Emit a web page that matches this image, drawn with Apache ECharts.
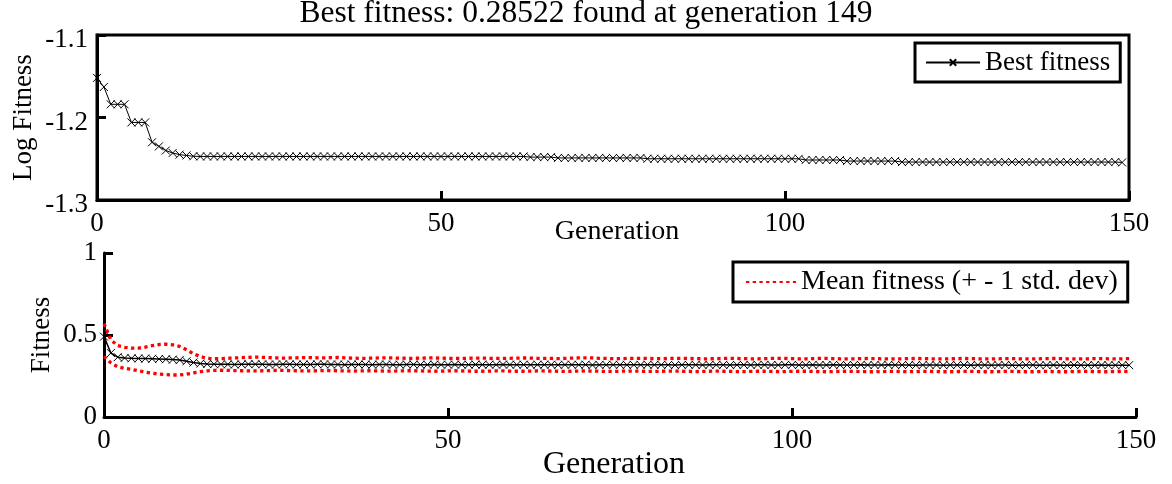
<!DOCTYPE html>
<html>
<head>
<meta charset="utf-8">
<script src="https://cdn.jsdelivr.net/npm/echarts@6/dist/echarts.min.js"></script>
<style>
  html, body { margin: 0; padding: 0; background: #fff; }
  #chart { width: 1172px; height: 484px; }
</style>
</head>
<body>
<div id="chart"></div>
<script>
// Generation index for every recorded generation (0..149)
const generations = Array.from({ length: 150 }, (_, i) => i);

// Log of the best fitness in each generation
const bestLogFitness = [
  -1.152, -1.163, -1.184, -1.184, -1.184, -1.206, -1.206, -1.206, -1.230, -1.235,
  -1.240, -1.243, -1.245, -1.246, -1.247, -1.2472, -1.2472, -1.2472, -1.2472, -1.2472,
  -1.2472, -1.2472, -1.2472, -1.2472, -1.2472, -1.2472, -1.2472, -1.2472, -1.2472, -1.2472,
  -1.2472, -1.2472, -1.2472, -1.2472, -1.2472, -1.2472, -1.2472, -1.2472, -1.2472, -1.2472,
  -1.2472, -1.2472, -1.2472, -1.2472, -1.2472, -1.2472, -1.2472, -1.2472, -1.2472, -1.2472,
  -1.2472, -1.2472, -1.2472, -1.2472, -1.2472, -1.2472, -1.2472, -1.2472, -1.2472, -1.2472,
  -1.2472, -1.2472, -1.2472, -1.2480, -1.2480, -1.2480, -1.2480, -1.2490, -1.2490, -1.2490,
  -1.2490, -1.2490, -1.2490, -1.2490, -1.2490, -1.2490, -1.2490, -1.2490, -1.2490, -1.2490,
  -1.2500, -1.2500, -1.2500, -1.2500, -1.2500, -1.2500, -1.2500, -1.2500, -1.2500, -1.2500,
  -1.2500, -1.2500, -1.2500, -1.2500, -1.2500, -1.2500, -1.2500, -1.2500, -1.2500, -1.2500,
  -1.2500, -1.2500, -1.2500, -1.2515, -1.2515, -1.2515, -1.2515, -1.2515, -1.2515, -1.2528,
  -1.2528, -1.2528, -1.2528, -1.2528, -1.2528, -1.2528, -1.2528, -1.2540, -1.2540, -1.2540,
  -1.2540, -1.2540, -1.2540, -1.2540, -1.2540, -1.2540, -1.2540, -1.2540, -1.2540, -1.2540,
  -1.2540, -1.2540, -1.2540, -1.2540, -1.2540, -1.2540, -1.2540, -1.2540, -1.2540, -1.2540,
  -1.2540, -1.2540, -1.2540, -1.2540, -1.2540, -1.2540, -1.2540, -1.2540, -1.2540, -1.2545
];

// Mean fitness of the population
const meanFitness = [
  0.490, 0.390, 0.365, 0.360, 0.358, 0.357, 0.356, 0.355, 0.354, 0.352,
  0.350, 0.347, 0.340, 0.332, 0.326, 0.323, 0.322, 0.321, 0.321, 0.320,
  0.321, 0.322, 0.322, 0.321, 0.320, 0.320, 0.321, 0.321, 0.320, 0.320,
  0.320, 0.321, 0.321, 0.320, 0.320, 0.319, 0.320, 0.320, 0.320, 0.319,
  0.320, 0.320, 0.319, 0.319, 0.320, 0.320, 0.319, 0.319, 0.320, 0.319,
  0.319, 0.320, 0.319, 0.319, 0.320, 0.319, 0.319, 0.319, 0.320, 0.319,
  0.319, 0.319, 0.318, 0.319, 0.319, 0.319, 0.318, 0.319, 0.319, 0.318,
  0.319, 0.317, 0.318, 0.318, 0.319, 0.318, 0.318, 0.318, 0.318, 0.319,
  0.318, 0.318, 0.318, 0.317, 0.318, 0.318, 0.318, 0.317, 0.318, 0.318,
  0.318, 0.317, 0.318, 0.318, 0.317, 0.318, 0.318, 0.317, 0.317, 0.318,
  0.318, 0.317, 0.317, 0.318, 0.317, 0.317, 0.318, 0.317, 0.317, 0.317,
  0.318, 0.317, 0.317, 0.317, 0.318, 0.317, 0.317, 0.317, 0.316, 0.317,
  0.317, 0.317, 0.316, 0.317, 0.317, 0.317, 0.316, 0.317, 0.317, 0.316,
  0.317, 0.317, 0.316, 0.316, 0.317, 0.317, 0.316, 0.316, 0.317, 0.316,
  0.316, 0.317, 0.316, 0.316, 0.316, 0.317, 0.316, 0.316, 0.316, 0.316
];

// Mean + 1 standard deviation
const upperBand = [
  0.570, 0.470, 0.435, 0.425, 0.420, 0.420, 0.426, 0.435, 0.442, 0.444,
  0.440, 0.430, 0.410, 0.386, 0.368, 0.358, 0.355, 0.356, 0.358, 0.360,
  0.362, 0.364, 0.365, 0.364, 0.362, 0.360, 0.359, 0.360, 0.361, 0.362,
  0.362, 0.361, 0.360, 0.362, 0.363, 0.361, 0.359, 0.358, 0.358, 0.359,
  0.360, 0.361, 0.360, 0.359, 0.358, 0.358, 0.359, 0.360, 0.360, 0.359,
  0.358, 0.357, 0.357, 0.358, 0.359, 0.359, 0.358, 0.357, 0.357, 0.358,
  0.359, 0.360, 0.359, 0.358, 0.357, 0.357, 0.356, 0.357, 0.359, 0.360,
  0.361, 0.360, 0.358, 0.357, 0.356, 0.356, 0.357, 0.358, 0.358, 0.357,
  0.356, 0.356, 0.357, 0.358, 0.358, 0.357, 0.356, 0.355, 0.355, 0.356,
  0.357, 0.358, 0.357, 0.356, 0.355, 0.355, 0.356, 0.357, 0.358, 0.357,
  0.356, 0.355, 0.355, 0.356, 0.357, 0.357, 0.356, 0.355, 0.354, 0.355,
  0.356, 0.357, 0.356, 0.355, 0.354, 0.354, 0.355, 0.356, 0.357, 0.356,
  0.355, 0.354, 0.354, 0.355, 0.356, 0.357, 0.356, 0.355, 0.354, 0.354,
  0.355, 0.356, 0.356, 0.355, 0.354, 0.354, 0.355, 0.356, 0.357, 0.356,
  0.355, 0.354, 0.354, 0.355, 0.356, 0.356, 0.355, 0.354, 0.355, 0.356
];

// Mean - 1 standard deviation
const lowerBand = [
  0.370, 0.330, 0.306, 0.297, 0.290, 0.282, 0.274, 0.267, 0.262, 0.259,
  0.256, 0.256, 0.261, 0.269, 0.276, 0.281, 0.284, 0.285, 0.284, 0.283,
  0.282, 0.281, 0.281, 0.282, 0.283, 0.284, 0.284, 0.283, 0.282, 0.281,
  0.281, 0.282, 0.283, 0.283, 0.282, 0.281, 0.280, 0.281, 0.282, 0.282,
  0.281, 0.280, 0.280, 0.281, 0.282, 0.282, 0.281, 0.280, 0.279, 0.280,
  0.281, 0.282, 0.281, 0.280, 0.279, 0.279, 0.280, 0.281, 0.281, 0.280,
  0.279, 0.279, 0.280, 0.281, 0.281, 0.280, 0.279, 0.278, 0.279, 0.280,
  0.281, 0.280, 0.279, 0.278, 0.278, 0.279, 0.280, 0.280, 0.279, 0.278,
  0.278, 0.279, 0.280, 0.280, 0.279, 0.278, 0.277, 0.278, 0.279, 0.280,
  0.279, 0.278, 0.277, 0.277, 0.278, 0.279, 0.279, 0.278, 0.277, 0.277,
  0.278, 0.279, 0.279, 0.278, 0.277, 0.276, 0.277, 0.278, 0.279, 0.278,
  0.277, 0.276, 0.276, 0.277, 0.278, 0.278, 0.277, 0.276, 0.277, 0.278,
  0.278, 0.277, 0.276, 0.276, 0.277, 0.278, 0.278, 0.277, 0.276, 0.276,
  0.277, 0.278, 0.278, 0.277, 0.276, 0.276, 0.277, 0.278, 0.277, 0.276,
  0.276, 0.277, 0.278, 0.278, 0.277, 0.276, 0.276, 0.277, 0.278, 0.277
];

const titleText = 'Best fitness: 0.28522 found at generation 149';
const bestName = 'Best fitness';
const meanName = 'Mean fitness';
const bandName = 'Mean fitness (+ - 1 std. dev)';

const FONT = "'Liberation Serif', 'Times New Roman', serif";
const crossMarker = 'path://M0,0L10,10M10,0L0,10';

const pairs = (values) => values.map((v, i) => [generations[i], v]);

const axisLine = { show: true, onZero: false, lineStyle: { color: '#000', width: 3 } };
const axisTick = { show: true, inside: true, length: 9, lineStyle: { color: '#000', width: 3 } };

function xAxisFor(gridIndex, nameGap, nameSize, namePadding) {
  return {
    type: 'value', gridIndex, min: 0, max: 150, interval: 50,
    name: 'Generation', nameLocation: 'middle', nameGap, nameMoveOverlap: false,
    nameTextStyle: {
      fontFamily: FONT, fontSize: nameSize, color: '#000',
      verticalAlign: 'middle', padding: namePadding
    },
    axisLine, axisTick, splitLine: { show: false },
    axisLabel: { fontFamily: FONT, fontSize: 27, color: '#000', margin: 10 }
  };
}

const chart = echarts.init(document.getElementById('chart'), null, { renderer: 'canvas' });

chart.setOption({
  animation: false,
  backgroundColor: '#fff',
  title: {
    text: titleText, left: 'center', top: -2, padding: 0,
    textStyle: { fontFamily: FONT, fontSize: 31.5, fontWeight: 'normal', color: '#000' }
  },
  legend: [
    {
      data: [bestName], left: 915, top: 43, padding: [6, 10, 6, 10],
      itemWidth: 54, itemHeight: 8, itemGap: 0,
      borderColor: '#000', borderWidth: 3, backgroundColor: '#fff',
      textStyle: { fontFamily: FONT, fontSize: 27, color: '#000' }
    },
    {
      data: [{ name: bandName, itemStyle: { opacity: 0 } }],
      left: 733, top: 262, padding: [6, 10, 6, 12],
      itemWidth: 50, itemHeight: 8, itemGap: 0,
      borderColor: '#000', borderWidth: 3, backgroundColor: '#fff',
      textStyle: { fontFamily: FONT, fontSize: 28, color: '#000' }
    }
  ],
  grid: [
    { left: 97, right: 43, top: 35, bottom: 284, show: true, borderColor: '#000', borderWidth: 3, backgroundColor: 'transparent' },
    { left: 104, right: 36, top: 253, bottom: 67 }
  ],
  xAxis: [xAxisFor(0, 32, 28, [0, 0, 0, 8]), xAxisFor(1, 48, 32, [0, 12, 0, 0])],
  yAxis: [
    {
      type: 'value', gridIndex: 0, min: -1.3, max: -1.1, interval: 0.1,
      name: 'Log Fitness', nameLocation: 'middle', nameGap: 73, nameMoveOverlap: false,
      nameTextStyle: { fontFamily: FONT, fontSize: 27, color: '#000', verticalAlign: 'middle' },
      axisLine, axisTick, splitLine: { show: false },
      axisLabel: {
        fontFamily: FONT, fontSize: 27, color: '#000', margin: 9,
        verticalAlign: 'top', lineHeight: 10,
        formatter: (v) => v.toFixed(1)
      }
    },
    {
      type: 'value', gridIndex: 1, min: 0, max: 1, interval: 0.5,
      name: 'Fitness', nameLocation: 'middle', nameGap: 62, nameMoveOverlap: false,
      nameTextStyle: { fontFamily: FONT, fontSize: 27, color: '#000', verticalAlign: 'middle' },
      axisLine, axisTick, splitLine: { show: false },
      axisLabel: { fontFamily: FONT, fontSize: 27, color: '#000', margin: 7 }
    }
  ],
  series: [
    {
      name: bestName, type: 'line', xAxisIndex: 0, yAxisIndex: 0,
      data: pairs(bestLogFitness),
      symbol: crossMarker, symbolSize: 8, showAllSymbol: true,
      lineStyle: { color: '#000', width: 1 },
      itemStyle: { color: '#000', borderColor: '#000', borderWidth: 1 },
      emphasis: { disabled: true }
    },
    {
      name: bandName, type: 'line', xAxisIndex: 1, yAxisIndex: 1,
      data: pairs(upperBand), symbol: 'none',
      lineStyle: { color: '#ff0000', width: 3.3, type: [3.3, 3.4] },
      itemStyle: { color: '#ff0000' },
      emphasis: { disabled: true }
    },
    {
      name: bandName, type: 'line', xAxisIndex: 1, yAxisIndex: 1,
      data: pairs(lowerBand), symbol: 'none',
      lineStyle: { color: '#ff0000', width: 3.3, type: [3.3, 3.4] },
      itemStyle: { color: '#ff0000' },
      emphasis: { disabled: true }
    },
    {
      name: meanName, type: 'line', xAxisIndex: 1, yAxisIndex: 1,
      data: pairs(meanFitness),
      symbol: crossMarker, symbolSize: 8, showAllSymbol: true,
      lineStyle: { color: '#000', width: 1.5 },
      itemStyle: { color: '#000', borderColor: '#000', borderWidth: 1 },
      emphasis: { disabled: true }
    }
  ]
});
</script>
</body>
</html>
